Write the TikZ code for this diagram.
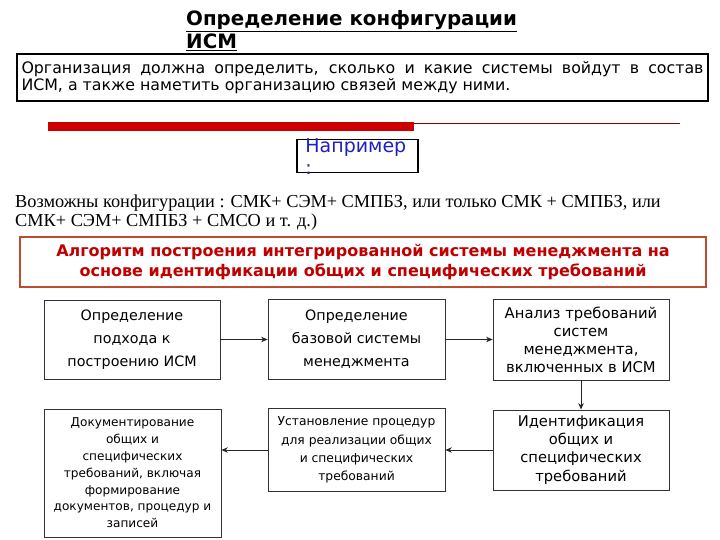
\documentclass[tikz,border=0pt]{standalone}
\usepackage{fontspec}
\setmainfont{Liberation Serif}
\newfontfamily\verdana{DejaVu Sans}
\newfontfamily\comic{DejaVu Sans}
\usetikzlibrary{positioning,calc,arrows.meta}
\definecolor{barred}{RGB}{204,0,0}
\definecolor{framered}{RGB}{190,75,48}
\definecolor{textred}{RGB}{192,0,0}
\definecolor{exblue}{RGB}{30,30,200}

\begin{document}
\begin{tikzpicture}[x=1pt,y=-1pt,>={Stealth[length=6.5pt,width=5.5pt]},
  stepbox/.style = {draw=black!80, line width=0.8pt, align=center, inner sep=2pt, font=\comic\fontsize{14.3}{23}\selectfont},
  smallbox/.style = {stepbox, font=\comic\fontsize{12.3}{18.3}\selectfont},
  flow/.style = {->, line width=0.8pt, black!85},]
\useasboundingbox (0,0) rectangle (720,540);
% heading and the note under it
\node (title) at (186,48.5)[anchor=base west, align=left, inner sep=0pt, font=\verdana\bfseries\fontsize{19.8}{22.5}\selectfont] {\underline{Определение конфигурации}\\\underline{ИСМ}};
\node (note) at (362.5,77.5)[draw, line width=2.2pt, minimum width=691, minimum height=47, text width=682, inner xsep=4.5pt, align=justify, font=\verdana\fontsize{15.8}{17}\selectfont] {Организация должна определить, сколько и  какие  системы   войдут в состав\linebreak ИСМ, а также наметить организацию связей между ними.};
\fill[barred] (48,122) rectangle (414,131);
\draw[line width=0.6pt, red!50!black] (414,123)--(680,123);
% example
\node (ex) at (357.5,156)[draw, line width=1.6pt, minimum width=121, minimum height=33] {};
\node (exText) at ([xshift=9pt]ex.north west)[anchor=north west, align=left, inner sep=0pt, text=exblue, font=\verdana\fontsize{19}{22}\selectfont] {Например\\:};
\node (cfg) at (15,226)[anchor=base west, align=left, inner sep=0pt, font=\fontsize{18.3}{19}\selectfont] {Возможны  конфигурации : СМК+ СЭМ+ СМПБЗ,  или только  СМК + СМПБЗ, или\\СМК+ СЭМ+ СМПБЗ + СМСО и т. д.)};
\node (algo) at (363,262)[draw=framered, line width=2.5pt, minimum width=686, minimum height=50, align=center, text=textred, font=\verdana\bfseries\fontsize{16}{20}\selectfont] {Алгоритм построения интегрированной системы менеджмента на\\основе идентификации общих и специфических требований};
% the steps
\node (A) at (132,339.5)[stepbox, minimum width=176, minimum height=79] {Определение\\подхода к\\построению ИСМ};
\node (B) at (356.5,339.5)[stepbox, minimum width=177, minimum height=80] {Определение\\базовой системы\\менеджмента};
\node (C) at (581,339.5)[stepbox, minimum width=176, minimum height=81, font=\comic\fontsize{14.8}{18}\selectfont] {Анализ требований\\систем\\менеджмента,\\включенных в ИСМ};
\node (D) at (581,450)[stepbox, minimum width=176, minimum height=80, font=\comic\fontsize{14.7}{18.3}\selectfont] {Идентификация\\общих и\\специфических\\требований};
\node (E) at (356.5,450)[smallbox, minimum width=177, minimum height=83] {Установление процедур\\для реализации общих\\и специфических\\требований};
\node (F) at (132.5,473)[smallbox, minimum width=177, minimum height=128, font=\comic\fontsize{12.1}{16.8}\selectfont] {Документирование\\общих и\\специфических\\требований, включая\\формирование\\документов, процедур и\\записей};
\draw[flow] (A)--(B);
\draw[flow] (B)--(C);
\draw[flow] (C)--(D);
\draw[flow] (D)--(E);
\draw[flow] (E.west)--(E.west -| F.east);
\end{tikzpicture}
\end{document}
